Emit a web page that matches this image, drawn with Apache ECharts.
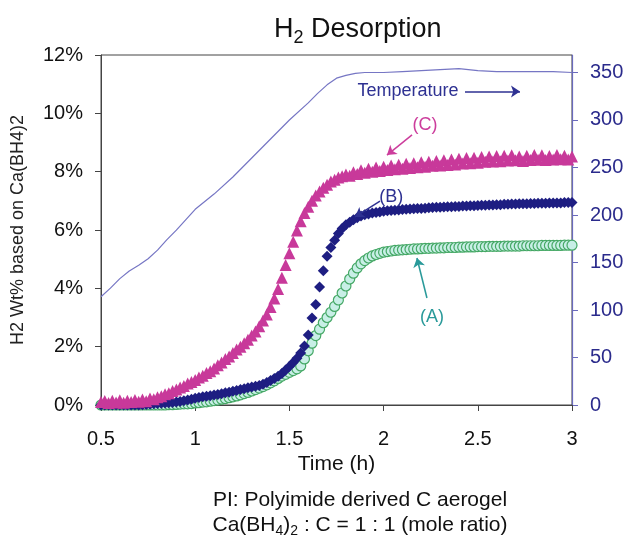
<!DOCTYPE html>
<html>
<head>
<meta charset="utf-8">
<script src="https://cdn.jsdelivr.net/npm/echarts@6/dist/echarts.min.js"></script>
<style>html,body{margin:0;padding:0;background:#fff;}#chart{width:631px;height:535px;}</style>
</head>
<body>
<div id="chart"></div>
<script>
// ---- data (time in h, H2 in wt%, temperature in °C) ----
const times = [0.50,0.52,0.54,0.56,0.58,0.60,0.62,0.64,0.66,0.68,
  0.70,0.72,0.74,0.76,0.78,0.80,0.82,0.84,0.86,0.88,
  0.90,0.92,0.94,0.96,0.98,1.00,1.02,1.04,1.06,1.08,
  1.10,1.12,1.14,1.16,1.18,1.20,1.22,1.24,1.26,1.28,
  1.30,1.32,1.34,1.36,1.38,1.40,1.42,1.44,1.46,1.48,
  1.50,1.52,1.54,1.56,1.58,1.60,1.62,1.64,1.66,1.68,
  1.70,1.72,1.74,1.76,1.78,1.80,1.82,1.84,1.86,1.88,
  1.90,1.92,1.94,1.96,1.98,2.00,2.02,2.04,2.06,2.08,
  2.10,2.12,2.14,2.16,2.18,2.20,2.22,2.24,2.26,2.28,
  2.30,2.32,2.34,2.36,2.38,2.40,2.42,2.44,2.46,2.48,
  2.50,2.52,2.54,2.56,2.58,2.60,2.62,2.64,2.66,2.68,
  2.70,2.72,2.74,2.76,2.78,2.80,2.82,2.84,2.86,2.88,
  2.90,2.92,2.94,2.96,2.98,3.00];

const seriesA = [0,0,0,0,0,0,0,0,0,0,
  0,0,0,0,0,0,0,0,0.01,0.01,
  0.02,0.03,0.04,0.04,0.05,0.07,0.08,0.10,0.11,0.13,
  0.15,0.17,0.20,0.22,0.25,0.28,0.31,0.35,0.39,0.43,
  0.48,0.53,0.58,0.63,0.69,0.76,0.83,0.91,0.99,1.05,
  1.12,1.18,1.24,1.34,1.58,1.86,2.12,2.38,2.60,2.82,
  3.00,3.18,3.38,3.60,3.84,4.08,4.32,4.52,4.70,4.84,
  4.95,5.04,5.11,5.16,5.20,5.24,5.26,5.28,5.30,5.31,
  5.32,5.33,5.34,5.35,5.35,5.36,5.37,5.37,5.38,5.38,
  5.39,5.39,5.40,5.40,5.40,5.41,5.41,5.42,5.42,5.42,
  5.43,5.43,5.43,5.44,5.44,5.44,5.44,5.45,5.45,5.45,
  5.45,5.45,5.46,5.46,5.46,5.46,5.46,5.47,5.47,5.47,
  5.47,5.47,5.47,5.48,5.48,5.48];

const seriesB = [0,0,0,0,0,0,0,0,0,0,
  0,0.01,0.02,0.03,0.04,0.05,0.06,0.07,0.08,0.09,
  0.10,0.12,0.15,0.17,0.20,0.23,0.26,0.28,0.30,0.32,
  0.34,0.36,0.39,0.42,0.44,0.47,0.50,0.53,0.56,0.59,
  0.62,0.64,0.67,0.71,0.77,0.84,0.91,0.99,1.08,1.20,
  1.32,1.46,1.60,1.78,2.02,2.40,2.98,3.45,4.05,4.60,
  5.10,5.40,5.65,5.88,6.05,6.18,6.27,6.35,6.42,6.48,
  6.52,6.55,6.58,6.60,6.62,6.64,6.66,6.67,6.68,6.69,
  6.70,6.71,6.72,6.73,6.74,6.74,6.75,6.76,6.77,6.78,
  6.78,6.79,6.80,6.80,6.81,6.81,6.82,6.82,6.83,6.83,
  6.84,6.85,6.85,6.86,6.86,6.87,6.87,6.88,6.88,6.89,
  6.89,6.90,6.90,6.90,6.91,6.91,6.92,6.92,6.92,6.93,
  6.93,6.93,6.93,6.94,6.94,6.94];

const seriesC = [0.10,0.14,0.07,0.15,0.09,0.16,0.08,0.15,0.10,0.17,
  0.11,0.19,0.13,0.22,0.20,0.27,0.30,0.37,0.40,0.48,
  0.53,0.60,0.65,0.74,0.79,0.86,0.94,1.00,1.10,1.16,
  1.25,1.36,1.46,1.58,1.66,1.78,1.90,2.00,2.12,2.24,
  2.38,2.52,2.70,2.90,3.10,3.36,3.65,3.98,4.36,4.80,
  5.20,5.60,5.98,6.30,6.58,6.80,7.00,7.18,7.32,7.45,
  7.55,7.66,7.72,7.80,7.84,7.90,7.86,7.98,7.92,8.05,
  7.96,8.10,8.00,8.14,8.02,8.17,8.06,8.21,8.08,8.24,
  8.10,8.27,8.13,8.29,8.15,8.32,8.17,8.34,8.20,8.37,
  8.21,8.39,8.23,8.42,8.25,8.44,8.28,8.47,8.29,8.48,
  8.31,8.50,8.34,8.52,8.35,8.54,8.36,8.55,8.38,8.56,
  8.39,8.52,8.37,8.55,8.40,8.57,8.41,8.56,8.40,8.54,
  8.42,8.57,8.43,8.55,8.42,8.52];

const tempTimes = [0.5,0.55,0.6,0.65,0.7,0.75,0.8,0.85,0.9,1.0,1.1,1.2,1.3,1.4,1.5,1.6,1.65,1.7,1.75,1.8,1.85,1.9,2.0,2.1,2.2,2.3,2.4,2.5,2.6,2.7,2.8,2.9,3.0];
const tempValues = [114,123,133,141,147,154,163,174,184,206,222,240,260,280,300,318,328,337,344,347,349,350,350,351,352,353,354,352,351,351,351,351,350];

const xTicks = [0.5, 3, 0.5];      // min, max, interval
const leftTicks = [0, 12, 2];      // %
const rightTicks = [0, 368.4, 50]; // temperature

const FONT = '"Liberation Sans", Arial, sans-serif';

const pairs = (xs, ys) => xs.map((x, i) => [x, ys[i]]);

const chart = echarts.init(document.getElementById('chart'), null, {renderer: 'canvas'});

function arrow(from, to, color) {
  return {
    silent: true,
    symbol: ['none', 'arrow'],
    symbolSize: 9,
    label: {show: false},
    lineStyle: {color: color, width: 1.5, type: 'solid', opacity: 1},
    itemStyle: {color: color},
    emphasis: {disabled: true},
    data: [[{coord: from}, {coord: to}]],
    animation: false
  };
}
function tag(text, at, color) {
  return {
    silent: true,
    symbol: 'circle',
    symbolSize: 1,
    itemStyle: {color: 'rgba(0,0,0,0)'},
    label: {show: true, position: 'inside', formatter: text, color: color, fontSize: 18, fontFamily: FONT},
    data: [{coord: at}],
    animation: false
  };
}

const option = {
  animation: false,
  backgroundColor: '#fff',
  title: {
    text: '{h|H}{s|2}{h| Desorption}',
    left: 269,
    top: 8,
    textStyle: {
      fontWeight: 'normal',
      rich: {
        h: {fontSize: 27, fontFamily: FONT, fontWeight: 'normal', color: '#111', lineHeight: 34},
        s: {fontSize: 18, fontFamily: FONT, fontWeight: 'normal', color: '#111', lineHeight: 18, verticalAlign: 'bottom'}
      }
    }
  },
  grid: {left: 101, right: 59, top: 55, bottom: 130, show: true, borderColor: '#444', borderWidth: 1, backgroundColor: 'transparent'},
  xAxis: {
    type: 'value', min: xTicks[0], max: xTicks[1], interval: xTicks[2],
    name: 'Time (h)', nameLocation: 'middle', nameGap: 40,
    nameTextStyle: {fontSize: 21, fontFamily: FONT, color: '#111'},
    axisLine: {show: true, lineStyle: {color: '#444', width: 1}},
    axisTick: {show: true, inside: false, length: 6, lineStyle: {color: '#444'}},
    axisLabel: {fontSize: 20, fontFamily: FONT, color: '#111', margin: 24},
    splitLine: {show: false}
  },
  yAxis: [{
    type: 'value', min: leftTicks[0], max: leftTicks[1], interval: leftTicks[2], position: 'left',
    name: 'H2 Wt% based on Ca(BH4)2', nameLocation: 'middle', nameGap: 74,
    nameTextStyle: {fontSize: 18, fontFamily: FONT, color: '#222'},
    axisLine: {show: true, lineStyle: {color: '#444', width: 1}},
    axisTick: {show: true, inside: false, length: 6, lineStyle: {color: '#444'}},
    axisLabel: {fontSize: 20, fontFamily: FONT, color: '#111', margin: 18, formatter: '{value}%'},
    splitLine: {show: false}
  }, {
    type: 'value', min: rightTicks[0], max: rightTicks[1], interval: rightTicks[2], position: 'right',
    axisLine: {show: true, lineStyle: {color: '#6a6abc', width: 1.2}},
    axisTick: {show: true, inside: false, length: 6, lineStyle: {color: '#6a6abc'}},
    axisLabel: {fontSize: 20, fontFamily: FONT, color: '#2b2b8c', margin: 18, showMaxLabel: false,
      formatter: v => (v % 50 === 0 ? String(v) : '')},
    splitLine: {show: false}
  }],
  series: [{
    name: 'A', type: 'scatter', yAxisIndex: 0,
    data: pairs(times, seriesA),
    symbol: 'circle', symbolSize: 10,
    itemStyle: {color: '#c8efe6', borderColor: '#45a865', borderWidth: 1.2, opacity: 1},
    markLine: arrow([2.23, 3.67], [2.177, 5.04], '#2a9a9a'),
    markPoint: tag('(A)', [2.257, 3.02], '#2a9a9a')
  }, {
    name: 'B', type: 'scatter', yAxisIndex: 0,
    data: pairs(times, seriesB),
    symbol: 'diamond', symbolSize: 11,
    itemStyle: {color: '#1e1e82', opacity: 1},
    markLine: arrow([1.981, 6.99], [1.848, 6.45], '#2e3192'),
    markPoint: tag('(B)', [2.04, 7.13], '#2e3192')
  }, {
    name: 'C', type: 'scatter', yAxisIndex: 0,
    data: pairs(times, seriesC),
    symbol: 'triangle', symbolSize: 12,
    itemStyle: {color: '#c8399a', opacity: 1},
    markLine: arrow([2.151, 9.26], [2.018, 8.57], '#cc3d9c'),
    markPoint: tag('(C)', [2.22, 9.6], '#cc3d9c')
  }, {
    name: 'Temperature', type: 'line', yAxisIndex: 1,
    data: pairs(tempTimes, tempValues),
    showSymbol: false, symbol: 'none',
    lineStyle: {color: '#7676c4', width: 1.2},
    markLine: arrow([2.432, 330], [2.724, 330], '#2e3192'),
    markPoint: tag('Temperature', [2.13, 330], '#2e3192')
  }],
  graphic: [{
    type: 'text', x: 360, y: 500,
    style: {text: 'PI: Polyimide derived C aerogel', font: '21px "Liberation Sans", Arial, sans-serif', fill: '#111', align: 'center', verticalAlign: 'middle'}
  }, {
    type: 'text', x: 360, y: 525,
    style: {
      text: '{n|Ca(BH}{s|4}{n|)}{s|2}{n| : C = 1 : 1 (mole ratio)}',
      align: 'center', verticalAlign: 'middle',
      rich: {
        n: {fontSize: 21, fontFamily: FONT, fill: '#111', lineHeight: 26},
        s: {fontSize: 14, fontFamily: FONT, fill: '#111', lineHeight: 14, verticalAlign: 'bottom'}
      }
    }
  }]
};
chart.setOption(option);
</script>
</body>
</html>
